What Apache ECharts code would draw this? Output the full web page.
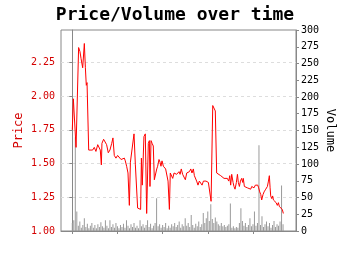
<!DOCTYPE html>
<html>
<head>
<meta charset="utf-8">
<script src="https://cdn.jsdelivr.net/npm/echarts@6/dist/echarts.min.js"></script>
<style>html,body{margin:0;padding:0;background:#fff}#c{width:350px;height:255px}</style>
</head>
<body>
<div id="c"></div>
<script>
const titleText = 'Price/Volume over time';
const priceName = 'Price';
const volumeName = 'Volume';
const priceTicks = [1.00, 1.25, 1.50, 1.75, 2.00, 2.25];
const volumeTicks = [0, 25, 50, 75, 100, 125, 150, 175, 200, 225, 250, 275, 300];
const dateTicks = [0, 30, 60, 90, 120];

const priceDays = [0.0,0.7,2.0,2.5,3.1,4.2,5.1,5.8,6.4,6.9,8.0,8.7,9.3,9.8,10.4,10.9,12.2,13.5,14.6,15.7,16.9,18.0,18.6,19.3,19.7,20.8,21.9,22.8,23.9,25.0,26.2,27.0,27.9,29.0,30.1,31.3,32.4,33.5,34.6,35.2,36.1,37.0,37.9,38.6,39.7,41.0,41.9,42.8,43.4,44.5,45.4,45.9,46.5,47.6,48.5,49.4,50.5,51.2,51.6,52.3,53.0,53.8,54.5,55.4,56.1,56.7,57.6,58.3,58.9,59.6,60.5,61.2,62.0,62.7,63.6,64.5,65.1,66.0,66.7,67.6,68.5,69.3,70.0,70.9,71.6,72.4,73.3,74.2,75.1,76.0,76.9,77.8,78.7,79.5,80.4,81.1,81.7,82.6,83.5,84.4,85.3,86.2,87.1,88.0,88.8,89.7,90.4,91.3,92.2,93.3,94.2,95.0,95.9,96.8,98.6,100.8,103.0,103.9,104.6,105.2,105.9,106.8,107.4,108.1,109.0,109.7,110.3,111.0,111.7,112.5,113.2,113.6,114.3,115.2,116.3,117.4,118.5,119.2,120.1,120.7,121.6,122.5,123.2,123.8,124.5,125.2,125.8,126.7,127.4,128.5,129.6,130.3,130.9,131.4,131.8,132.5,133.1,133.6,134.0,134.7,135.4,136.2,136.9,137.6,138.2,138.9,139.5,140.2];
const priceValues = [1.75,1.98,1.99,1.62,1.63,2.36,2.33,2.28,2.29,2.21,2.39,2.21,2.08,2.10,2.09,1.60,1.60,1.60,1.62,1.59,1.64,1.65,1.60,1.49,1.65,1.68,1.67,1.64,1.58,1.60,1.65,1.69,1.56,1.54,1.56,1.57,1.53,1.53,1.54,1.52,1.48,1.43,1.19,1.51,1.51,1.72,1.49,1.48,1.17,1.17,1.16,1.54,1.34,1.70,1.72,1.13,1.65,1.67,1.33,1.67,1.65,1.63,1.38,1.39,1.46,1.48,1.53,1.51,1.48,1.52,1.48,1.48,1.46,1.47,1.37,1.16,1.43,1.42,1.39,1.43,1.44,1.42,1.43,1.44,1.42,1.46,1.42,1.42,1.38,1.43,1.42,1.44,1.46,1.43,1.46,1.41,1.42,1.37,1.34,1.37,1.36,1.34,1.37,1.36,1.37,1.38,1.36,1.37,1.22,1.93,1.94,1.89,1.43,1.42,1.41,1.39,1.39,1.37,1.41,1.34,1.42,1.36,1.33,1.31,1.36,1.42,1.36,1.33,1.37,1.39,1.36,1.39,1.33,1.33,1.32,1.32,1.31,1.33,1.34,1.32,1.34,1.33,1.34,1.32,1.29,1.27,1.23,1.27,1.29,1.31,1.33,1.37,1.41,1.32,1.26,1.24,1.26,1.23,1.22,1.24,1.21,1.19,1.21,1.18,1.19,1.18,1.16,1.13];

const volumeValues = [12,16,140,29,8,14,5,9,19,6,11,4,8,12,5,9,4,10,6,13,7,5,16,8,4,16,6,10,5,12,7,4,9,6,11,5,16,8,4,10,6,12,5,8,4,16,7,10,5,9,16,6,11,4,8,12,49,7,10,5,9,6,12,4,8,5,10,7,12,6,9,14,5,10,7,19,8,12,6,24,9,5,11,7,14,6,10,27,12,19,29,15,40,18,12,20,14,10,8,12,7,9,6,8,10,41,5,7,4,6,5,12,34,15,8,12,6,9,19,7,10,29,8,12,128,9,22,6,10,14,7,12,5,9,15,6,10,8,14,68,10];

const font = 'DejaVu Sans Mono';
const red = '#d40000';
const axisGray = '#888888';

const priceData = priceDays.map((d, i) => [d, priceValues[i]]);
const volumeData = volumeValues.map((v, i) => [i, v]);

const chart = echarts.init(document.getElementById('c'), null, {renderer: 'canvas'});
chart.setOption({
  animation: false,
  backgroundColor: '#fff',
  title: {
    text: titleText, left: 'center', top: 1,
    textStyle: {fontFamily: font, fontWeight: 'bold', fontSize: 18, color: '#000'}
  },
  grid: {left: 61, right: 54, top: 30, bottom: 24, show: true, borderColor: axisGray, borderWidth: 1, outerBoundsMode: 'none'},
  xAxis: {
    type: 'value', min: -7.5, max: 148.6,
    axisLine: {show: true, lineStyle: {color: axisGray}},
    axisTick: {show: true, length: 3, inside: false, customValues: dateTicks, lineStyle: {color: axisGray}},
    axisLabel: {show: false},
    splitLine: {show: false}
  },
  yAxis: [{
    type: 'value', min: priceTicks[0], max: 2.49, interval: 0.25, position: 'left',
    name: priceName, nameLocation: 'middle', nameGap: 36, nameMoveOverlap: false,
    nameTextStyle: {fontFamily: font, fontSize: 12, color: red},
    axisLine: {show: true, lineStyle: {color: axisGray}},
    axisTick: {show: true, length: 3, customValues: priceTicks, lineStyle: {color: axisGray}},
    axisLabel: {customValues: priceTicks, fontFamily: font, fontSize: 10, color: red, margin: 6, formatter: v => v.toFixed(2)},
    splitLine: {show: true, lineStyle: {color: '#dddddd', type: [3, 3], width: 1}}
  }, {
    type: 'value', min: 0, max: 300, interval: 25, position: 'right',
    name: volumeName, nameLocation: 'middle', nameGap: 28, nameRotate: -90, nameMoveOverlap: false,
    nameTextStyle: {fontFamily: font, fontSize: 12, color: '#000'},
    axisLine: {show: true, lineStyle: {color: axisGray}},
    axisTick: {show: true, length: 3, customValues: volumeTicks, lineStyle: {color: axisGray}},
    axisLabel: {customValues: volumeTicks, fontFamily: font, fontSize: 10, color: '#000', margin: 5},
    splitLine: {show: false}
  }],
  series: [{
    type: 'bar', yAxisIndex: 1, data: volumeData, barWidth: 1,
    itemStyle: {color: '#9a9a9a'}, z: 1
  }, {
    type: 'line', yAxisIndex: 0, data: priceData, showSymbol: false,
    lineStyle: {color: 'red', width: 1}, z: 3
  }]
});
</script>
</body>
</html>
